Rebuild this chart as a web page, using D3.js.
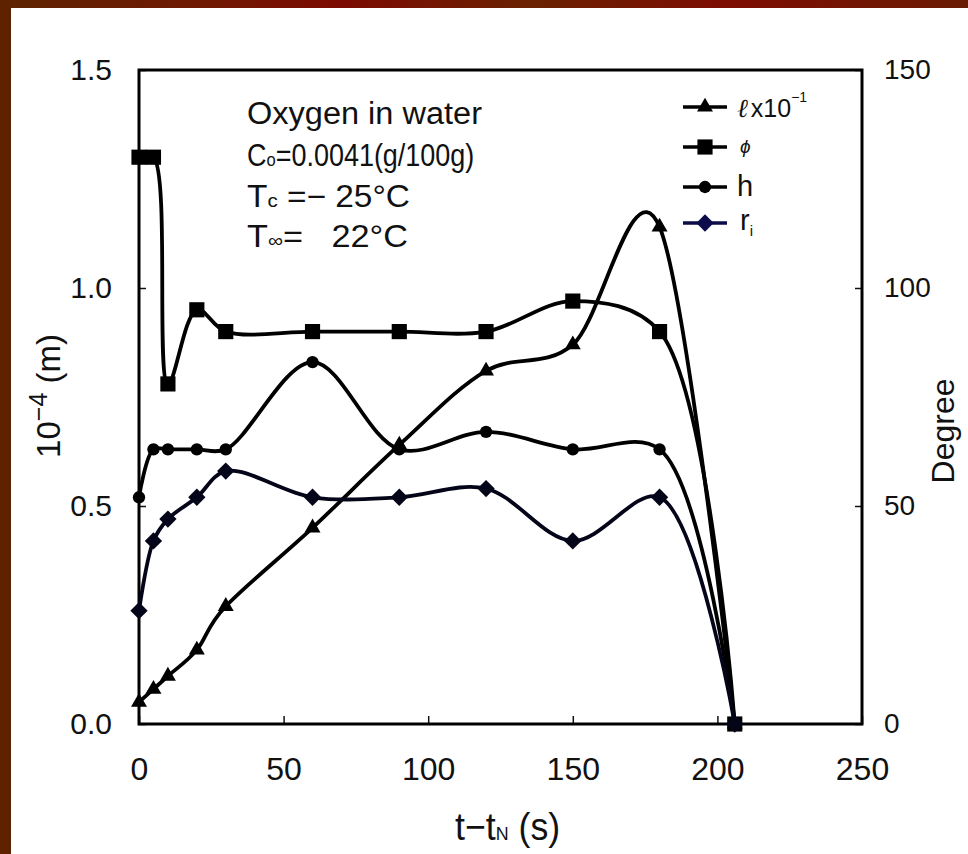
<!DOCTYPE html>
<html>
<head>
<meta charset="utf-8">
<script src="https://cdn.jsdelivr.net/npm/d3@7/dist/d3.min.js"></script>
<style>
    body { margin: 0; background: #fff; }
    svg text { font-family: "Liberation Sans", Arial, sans-serif; fill: #111; }
</style>
</head>
<body>
<div id="chart"></div>
<script>
// values
const times = [0, 5, 10, 20, 30, 60, 90, 120, 150, 180, 206];
const ellValues = [0.05, 0.08, 0.11, 0.17, 0.27, 0.45, 0.64, 0.81, 0.87, 1.14, 0];   // l x 10^-1 (left axis)
const phiValues = [130, 130, 78, 95, 90, 90, 90, 90, 97, 90, 0];                   // degree (right axis)
const hValues = [0.52, 0.63, 0.63, 0.63, 0.63, 0.83, 0.63, 0.67, 0.63, 0.63, 0];    // left axis
const riValues = [0.26, 0.42, 0.47, 0.52, 0.58, 0.52, 0.52, 0.54, 0.42, 0.52, 0];   // left axis

const xTicks = [0, 50, 100, 150, 200, 250];
const leftTicks = [0, 0.5, 1.0, 1.5];
const rightTicks = [0, 50, 100, 150];

const W = 968, H = 854;
const margin = { top: 70, right: 106, bottom: 130, left: 139 };
const width = W - margin.left - margin.right;
const height = H - margin.top - margin.bottom;

const svg = d3.select("#chart").append("svg")
    .attr("width", W)
    .attr("height", H);

// dark red frame on top and left
const defs = svg.append("defs");
const grad = defs.append("linearGradient").attr("id", "topband");
[["0%", "#5e2402"], ["20%", "#6f1a02"], ["35%", "#7c0a02"], ["55%", "#6a2202"], ["75%", "#7d0c02"], ["100%", "#6a1c04"]]
    .forEach(s => grad.append("stop").attr("offset", s[0]).attr("stop-color", s[1]));
svg.append("rect").attr("x", 0).attr("y", 0).attr("width", W).attr("height", 8).attr("fill", "url(#topband)");
svg.append("rect").attr("x", 0).attr("y", 0).attr("width", 11).attr("height", H).attr("fill", "#5e2200");

const g = svg.append("g").attr("transform", `translate(${margin.left},${margin.top})`);

// scales
const x = d3.scaleLinear().domain([0, 250]).range([0, width]);
const yLeft = d3.scaleLinear().domain([0, 1.5]).range([height, 0]);
const yRight = d3.scaleLinear().domain([0, 150]).range([height, 0]);

// axes, ticks point inward
g.append("g")
    .attr("transform", `translate(0,${height})`)
    .call(d3.axisBottom(x).tickValues(xTicks).tickSizeInner(-8).tickSizeOuter(0).tickPadding(33))
    .call(a => a.select(".domain").remove())
    .call(a => a.selectAll("line").attr("stroke", "#111").attr("stroke-width", 1.5))
    .call(a => a.selectAll("text").attr("font-size", 32).attr("font-family", null));

g.append("g")
    .call(d3.axisLeft(yLeft).tickValues(leftTicks).tickFormat(d3.format(".1f")).tickSizeInner(-7).tickSizeOuter(0).tickPadding(27))
    .call(a => a.select(".domain").remove())
    .call(a => a.selectAll("line").attr("stroke", "#111").attr("stroke-width", 1.5))
    .call(a => a.selectAll("text").attr("font-size", 30).attr("font-family", null));

g.append("g")
    .attr("transform", `translate(${width},0)`)
    .call(d3.axisRight(yRight).tickValues(rightTicks).tickSizeInner(-7).tickSizeOuter(0).tickPadding(22))
    .call(a => a.select(".domain").remove())
    .call(a => a.selectAll("line").attr("stroke", "#111").attr("stroke-width", 1.5))
    .call(a => a.selectAll("text").attr("font-size", 28).attr("font-family", null));

// plot frame
g.append("rect")
    .attr("width", width)
    .attr("height", height)
    .attr("fill", "none")
    .attr("stroke", "#000")
    .attr("stroke-width", 3);

// series
const diamond = { draw(ctx, size) { const r = Math.sqrt(size / 2); ctx.moveTo(0, -r); ctx.lineTo(r, 0); ctx.lineTo(0, r); ctx.lineTo(-r, 0); ctx.closePath(); } };

const series = [
    { key: "ell", values: ellValues, scale: yLeft, symbol: d3.symbolTriangle, size: 110, color: "#000", alpha: 0 },
    { key: "phi", values: phiValues, scale: yRight, symbol: d3.symbolSquare, size: 230, color: "#000", alpha: 0.5 },
    { key: "h", values: hValues, scale: yLeft, symbol: d3.symbolCircle, size: 120, color: "#000", alpha: 0.5 },
    { key: "ri", values: riValues, scale: yLeft, symbol: diamond, size: 150, color: "#05051a", alpha: 0.5 }
];

series.forEach(s => {
    let pts = times.map((t, i) => ({ t: t, v: s.values[i] }));

    let line = d3.line()
        .x(d => x(d.t))
        .y(d => s.scale(d.v))
        .curve(d3.curveCatmullRom.alpha(s.alpha));

    g.append("path")
        .datum(pts)
        .attr("fill", "none")
        .attr("stroke", s.color)
        .attr("stroke-width", 3.8)
        .attr("stroke-linejoin", "round")
        .attr("d", line);

    g.selectAll(".mk-" + s.key)
        .data(pts)
        .enter()
        .append("path")
        .attr("class", "mk-" + s.key)
        .attr("transform", d => `translate(${x(d.t)},${s.scale(d.v)})`)
        .attr("fill", s.color)
        .attr("d", d3.symbol().type(s.symbol).size(s.size));
});

// legend
const legendRows = [
    { key: "ell", y: 107 },
    { key: "phi", y: 147 },
    { key: "h", y: 187 },
    { key: "ri", y: 223 }
];
const legend = svg.append("g");
legendRows.forEach(row => {
    let s = series.find(d => d.key === row.key);
    let c = row.key === "ri" ? "#0c0c4a" : "#000";
    legend.append("line")
        .attr("x1", 683).attr("x2", 727)
        .attr("y1", row.y).attr("y2", row.y)
        .attr("stroke", c).attr("stroke-width", 3.5);
    legend.append("path")
        .attr("transform", `translate(705,${row.y})`)
        .attr("fill", c)
        .attr("d", d3.symbol().type(s.symbol).size(s.size));
});

let t1 = legend.append("text").attr("x", 737).attr("y", 117).attr("font-size", 26);
t1.append("tspan").attr("font-style", "italic").attr("font-family", "DejaVu Serif").text("\u2113");
t1.append("tspan").attr("font-size", 25).attr("dx", 3).text("x10");
t1.append("tspan").attr("font-size", 14).attr("dy", -15).text("\u2212" + "1");

legend.append("text").attr("x", 740).attr("y", 153)
    .attr("font-size", 19).attr("font-style", "italic").attr("font-family", "DejaVu Serif")
    .text("\u03d5");

legend.append("text").attr("x", 737).attr("y", 196).attr("font-size", 29).text("h");

let t4 = legend.append("text").attr("x", 740).attr("y", 230).attr("font-size", 29);
t4.append("tspan").text("r");
t4.append("tspan").attr("font-size", 15).attr("dy", 6).text("i");

// annotation
const note = svg.append("g").attr("font-size", 31);
note.append("text").attr("x", 247).attr("y", 124)
    .attr("textLength", 235).attr("lengthAdjust", "spacingAndGlyphs")
    .text("Oxygen in water");

// this line is narrower in the picture, so squeeze it sideways only
let n2 = note.append("text").attr("transform", "translate(247,166) scale(0.87,1)");
n2.append("tspan").text("C");
n2.append("tspan").attr("font-size", 19).text("o");
n2.append("tspan").text("=0.0041(g/100g)");

let n3 = note.append("text").attr("x", 247).attr("y", 207)
    .attr("textLength", 163).attr("lengthAdjust", "spacingAndGlyphs");
n3.append("tspan").text("T");
n3.append("tspan").attr("font-size", 19).text("c");
n3.append("tspan").text(" =\u2212 25\u00b0C");

let n4 = note.append("text").attr("x", 247).attr("y", 247)
    .attr("textLength", 161).attr("lengthAdjust", "spacingAndGlyphs");
n4.append("tspan").text("T");
n4.append("tspan").attr("font-size", 19).text("\u221e");
n4.append("tspan").text("=\u00a0\u00a0 22\u00b0C");

// axis titles
let xt = svg.append("text")
    .attr("transform", "translate(455,840) scale(0.94,1)")
    .attr("font-size", 38);
xt.append("tspan").text("t\u2212t");
xt.append("tspan").attr("font-size", 19).text("N");
xt.append("tspan").text(" (s)");

let yt = svg.append("text")
    .attr("transform", "translate(60,396) rotate(-90)")
    .attr("text-anchor", "middle")
    .attr("font-size", 33);
yt.append("tspan").text("10");
yt.append("tspan").attr("font-size", 25).attr("dy", -13).text("\u22124");
yt.append("tspan").attr("dy", 13).text(" (m)");

svg.append("text")
    .attr("transform", "translate(954,431) rotate(-90)")
    .attr("text-anchor", "middle")
    .attr("font-size", 32)
    .text("Degree");
</script>
</body>
</html>
